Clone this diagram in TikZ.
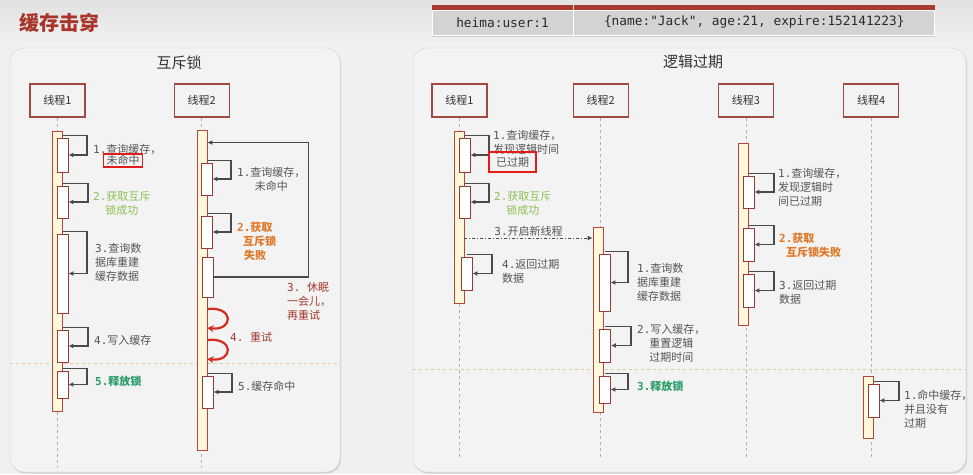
\documentclass[tikz,border=0pt]{standalone}
\usepackage{fontspec}
\setmainfont{Noto Sans CJK SC}
\setmonofont{DejaVu Sans Mono}
\usepackage{tikz}
\usetikzlibrary{arrows.meta, positioning, calc, shadows}
\usepackage{xcolor}
\definecolor{pagebg}{HTML}{F0F0F0}
\definecolor{topgray}{HTML}{E2E2E2}
\definecolor{panelbg}{HTML}{F3F3F3}
\definecolor{panelline}{HTML}{D0D0D0}
\definecolor{titlered}{HTML}{A8342A}
\definecolor{headc}{HTML}{333333}
\definecolor{txt}{HTML}{555555}
\definecolor{frame}{HTML}{A04A42}
\definecolor{barfill}{HTML}{FFF8DA}
\definecolor{barline}{HTML}{B5483C}
\definecolor{actline}{HTML}{9A3A32}
\definecolor{callc}{HTML}{4A4A4A}
\definecolor{lifec}{HTML}{B0B0B0}
\definecolor{phasec}{HTML}{D8CFA0}
\definecolor{okgreen}{HTML}{8CC152}
\definecolor{relgreen}{HTML}{2A9D6A}
\definecolor{failorange}{HTML}{E07828}
\definecolor{sleepred}{HTML}{A5392F}
\definecolor{arcred}{HTML}{D62B1E}
\definecolor{hl}{HTML}{E31B1B}
\definecolor{hdr}{HTML}{A93A2E}
\definecolor{cellbg}{HTML}{D3D3D3}
\definecolor{codec}{HTML}{2A2A2A}
\newcommand{\stp}[1]{{\ttfamily #1}}

\begin{document}
\begin{tikzpicture}[x=1pt, y=-1pt,
  every node/.style={font=\fontsize{11}{14}\selectfont, text=txt},
  thread/.style={draw=frame, line width=1.2pt, fill=panelbg, minimum width=55pt,
    minimum height=33pt, inner sep=0pt, text=headc},
  bar/.style={draw=barline, fill=barfill, line width=0.9pt, minimum width=10pt, inner sep=0pt},
  act/.style={draw=actline, fill=white, line width=0.9pt, minimum width=11pt, inner sep=0pt},
  selfcall/.style={draw=callc, line width=1.1pt, -{Latex[length=5pt,width=5pt]}},
  spawn/.style={draw=callc, line width=0.9pt, dash pattern=on 3pt off 2pt on 1pt off 2pt,
    -{Latex[length=5pt,width=5pt]}},
  life/.style={lifec, dashed, line width=0.8pt},
  phase/.style={phasec, dashed, line width=0.8pt},
  note/.style={anchor=north west, inner sep=0pt, align=left},
  hlbox/.style={draw=hl, line width=1.6pt, inner xsep=3pt, inner ysep=1.5pt},
  panel/.style={draw=panelline, fill=panelbg, rounded corners=14pt,
    drop shadow={shadow xshift=1pt, shadow yshift=-1.5pt, opacity=0.25}},
  cell/.style={fill=cellbg, draw=white, line width=0.8pt, minimum height=25pt, inner sep=0pt,
    font=\ttfamily\fontsize{12.8}{14}\selectfont, text=codec,
    drop shadow={shadow xshift=0pt, shadow yshift=-2pt, opacity=0.3}},
  retry/.style={draw=arcred, line width=2.2pt, -{Stealth[length=6pt,width=7pt]}}]

  \useasboundingbox (0,0) rectangle (973,474);
  \fill[pagebg] (0,0) rectangle (973,474);
  \shade[top color=topgray, bottom color=pagebg] (0,0) rectangle (973,44);

  \node[font=\fontsize{20}{24}\selectfont\bfseries, text=titlered] (title) at (59,23) {缓存击穿};

  % cache entry
  \node[cell, minimum width=141pt] (key) at (502.5,22.5) {heima:user:1};
  \node[cell, minimum width=361pt, right=0pt of key] (val) {\{name:"Jack", age:21, expire:152141223\}};
  \fill[hdr] ([yshift=5pt]key.north west) rectangle ([xshift=-0.8pt]key.north east);
  \fill[hdr] ([yshift=5pt, xshift=0.8pt]val.north west) rectangle (val.north east);

  % panels
  \draw[panel] (10,48) rectangle (340,472);
  \draw[panel] (413,48) rectangle (966,472);
  \node[font=\fontsize{15}{18}\selectfont, text=headc] (mutex) at (179,63) {互斥锁};
  \node[font=\fontsize{15}{18}\selectfont, text=headc] (logic) at (693,62) {逻辑过期};

  % threads
  \node[thread] (t1) at (57.5,100.5) {线程1};
  \node[thread, right=88pt of t1] (t2) {线程2};
  \node[thread] (r1) at (459.5,100.5) {线程1};
  \node[thread, right=85pt of r1] (r2) {线程2};
  \node[thread, right=89pt of r2] (r3) {线程3};
  \node[thread, right=69pt of r3] (r4) {线程4};

  \coordinate (lend) at (0,468);
  \coordinate (rend) at (0,458);
  \foreach \t in {t1,t2} \draw[life] (\t) -- (\t |- lend);
  \foreach \t in {r1,r2,r3,r4} \draw[life] (\t) -- (\t |- rend);
  \draw[phase] (10,363) -- (340,363);
  \draw[phase] (413,369) -- (966,369);

  % lifetimes
  \node[bar, minimum height=280pt] (lb1) at (57,271) {};
  \node[bar, minimum height=320pt] (lb2) at (202,290) {};
  \node[bar, minimum height=172pt] (rb1) at (459,217) {};
  \node[bar, minimum height=185pt] (rb2) at (598,319.5) {};
  \node[bar, minimum height=182pt] (rb3) at (743.5,234) {};
  \node[bar, minimum height=62pt] (rb4) at (868,407) {};

  \foreach \n/\x/\y/\h in {a1/62.5/155/34, a2/62.5/202/32, a3/62.5/273.5/79, a4/62.5/346/32,
      a5/62.5/384.5/27, c1/206.5/179/32, c2/206.5/232/32, c3/207.5/277/40, c5/207.5/392/32,
      d1/464.5/155/34, d2/464.5/202/32, d4/466.5/273.5/33, e1/604.5/282.5/57,
      e2/605/345.5/33, e3/604.5/389.5/27, f1/748.5/192/32, f2/748.5/244.5/33,
      f3/748.5/290.5/33, g1/873.5/400.5/33}
    \node[act, minimum height=\h pt] (\n) at (\x,\y) {};

  \foreach \n/\w in {a1/24.5, a2/25.5, a3/24.5, a4/25.5, a5/24.5, c1/24.5, c2/24.5, c5/24.5,
      d1/24.5, d2/24.5, d4/25.5, e1/23.5, e2/26, e3/23.5, f1/25.5, f2/25.5, f3/25.5, g1/25.5}
    \draw[selfcall] ([yshift=2pt]\n.north) -- ++(\w,0) |- (\n.east);

  \draw[selfcall] (c3.east) -- ++(95,0) |- ([yshift=-13pt]lb2.north east);
  \draw[retry] (lb2.east |- 0,309) .. controls (234,306) and (234,331) .. (lb2.east |- 0,328);
  \draw[retry] (lb2.east |- 0,340) .. controls (234,337) and (234,362) .. (lb2.east |- 0,359);
  \draw[spawn] (rb1.east |- 0,238) -- node[above, inner sep=1.5pt] (spawnlbl) {\stp{3.}开启新线程}
    (rb2.west |- 0,238);

  % mutex labels
  \node[note] (la1) at (93,144) {\stp{1.}查询缓存，};
  \node[hlbox] (miss1) at (123,160.5) {未命中};
  \node[note, align=center, text=okgreen] (la2) at (93,191) {\stp{2.}获取互斥\\锁成功};
  \node[note] (la3) at (95,243) {\stp{3.}查询数\\据库重建\\缓存数据};
  \node[note] (la4) at (94,335) {\stp{4.}写入缓存};
  \node[note, text=relgreen, font=\fontsize{11}{14}\selectfont\bfseries] (la5) at (95,376) {\stp{5.}释放锁};
  \node[note, align=center] (lc1) at (237,167) {\stp{1.}查询缓存，\\未命中};
  \node[note, text=failorange, font=\fontsize{11}{14}\selectfont\bfseries] (lc2) at (237,222)
    {\stp{2.}获取\\\hspace{6pt}互斥锁\\\hspace{7pt}失败};
  \node[note, text=sleepred] (lsleep) at (287,282) {\stp{3. }休眠\\一会儿，\\再重试};
  \node[note, text=sleepred] (lretry) at (230,332) {\stp{4. }重试};
  \node[note] (lc5) at (238,381) {\stp{5.}缓存命中};

  % logical expire labels
  \node[note] (ld1) at (493,130) {\stp{1.}查询缓存，\\发现逻辑时间};
  \node[hlbox, minimum width=47pt, minimum height=20pt] (stale1) at (512.5,162) {已过期};
  \node[note, align=center, text=okgreen] (ld2) at (494,191) {\stp{2.}获取互斥\\锁成功};
  \node[note] (ld4) at (502,259) {\stp{4.}返回过期\\数据};
  \node[note] (le1) at (637,263) {\stp{1.}查询数\\据库重建\\缓存数据};
  \node[note, align=center] (le2) at (637,324) {\stp{2.}写入缓存，\\重置逻辑\\过期时间};
  \node[note, text=relgreen, font=\fontsize{11}{14}\selectfont\bfseries] (le3) at (637,381) {\stp{3.}释放锁};
  \node[note] (lf1) at (778,168) {\stp{1.}查询缓存，\\发现逻辑时\\间已过期};
  \node[note, text=failorange, font=\fontsize{11}{14}\selectfont\bfseries] (lf2) at (779,233)
    {\stp{2.}获取\\\hspace{7pt}互斥锁失败};
  \node[note] (lf3) at (779,280) {\stp{3.}返回过期\\数据};
  \node[note] (lg1) at (904,390) {\stp{1.}命中缓存，\\并且没有\\过期};
\end{tikzpicture}
\end{document}
